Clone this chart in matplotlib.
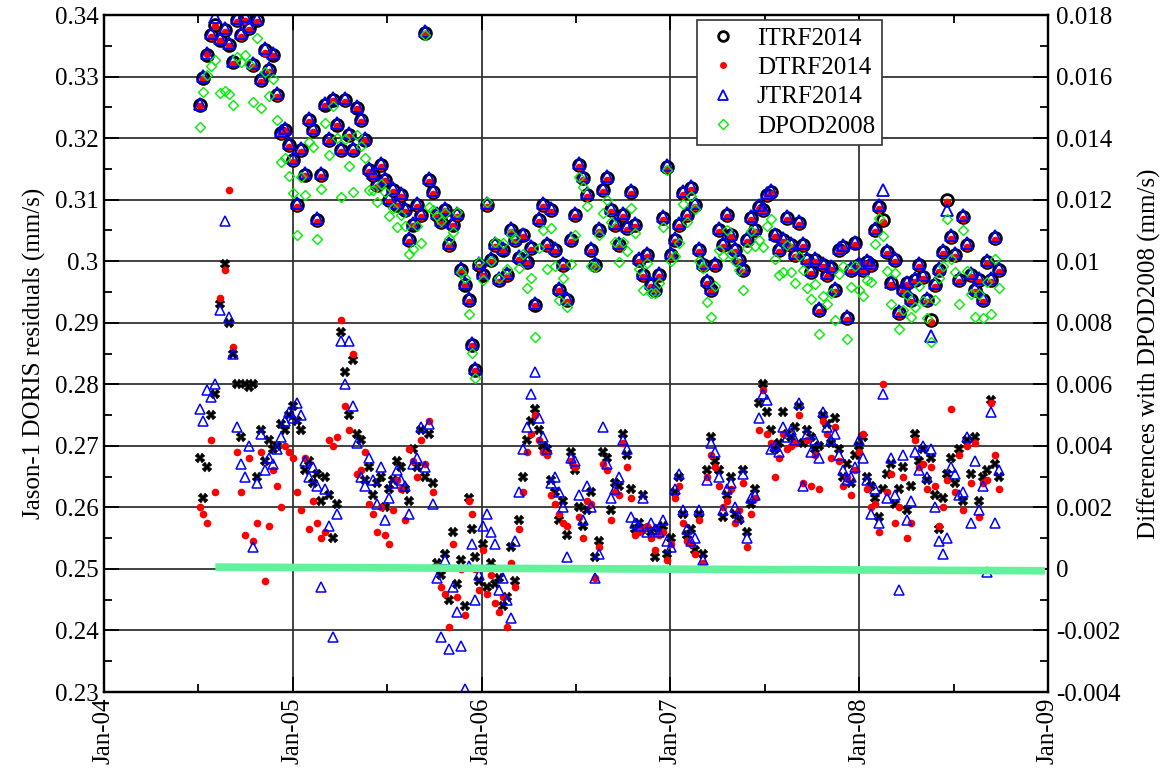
import matplotlib
matplotlib.use("Agg")
import matplotlib.pyplot as plt
from matplotlib.ticker import MultipleLocator, FuncFormatter
from matplotlib.lines import Line2D

plt.rcParams['font.family'] = ['Liberation Serif', 'DejaVu Serif']
plt.rcParams['font.size'] = 18

# epoch of each solution (decimal year)
t = [2004.508, 2004.524, 2004.546, 2004.567, 2004.588, 2004.614, 2004.641, 2004.662, 2004.683, 2004.704,
     2004.726, 2004.747, 2004.768, 2004.789, 2004.810, 2004.832, 2004.853, 2004.874, 2004.895, 2004.916,
     2004.938, 2004.959, 2004.980, 2005.001, 2005.022, 2005.043, 2005.065, 2005.086, 2005.107, 2005.128,
     2005.149, 2005.171, 2005.192, 2005.213, 2005.234, 2005.255, 2005.276, 2005.298, 2005.319, 2005.340,
     2005.361, 2005.382, 2005.404, 2005.425, 2005.446, 2005.467, 2005.488, 2005.510, 2005.531, 2005.552,
     2005.573, 2005.594, 2005.615, 2005.637, 2005.658, 2005.679, 2005.700, 2005.721, 2005.743, 2005.764,
     2005.785, 2005.806, 2005.827, 2005.849, 2005.870, 2005.891, 2005.912, 2005.933, 2005.949, 2005.965,
     2005.986, 2006.007, 2006.029, 2006.050, 2006.071, 2006.092, 2006.113, 2006.135, 2006.156, 2006.177,
     2006.198, 2006.219, 2006.240, 2006.262, 2006.283, 2006.304, 2006.325, 2006.346, 2006.368, 2006.389,
     2006.410, 2006.431, 2006.452, 2006.474, 2006.495, 2006.516, 2006.537, 2006.558, 2006.579, 2006.601,
     2006.622, 2006.643, 2006.664, 2006.685, 2006.707, 2006.728, 2006.749, 2006.770, 2006.791, 2006.812,
     2006.834, 2006.855, 2006.876, 2006.897, 2006.918, 2006.940, 2006.961, 2006.982, 2007.003, 2007.024,
     2007.045, 2007.067, 2007.088, 2007.109, 2007.130, 2007.151, 2007.173, 2007.194, 2007.215, 2007.236,
     2007.257, 2007.279, 2007.300, 2007.321, 2007.342, 2007.363, 2007.384, 2007.406, 2007.427, 2007.448,
     2007.469, 2007.490, 2007.512, 2007.533, 2007.554, 2007.575, 2007.596, 2007.617, 2007.639, 2007.660,
     2007.681, 2007.702, 2007.723, 2007.745, 2007.766, 2007.787, 2007.808, 2007.829, 2007.851, 2007.872,
     2007.893, 2007.914, 2007.935, 2007.957, 2007.978, 2007.999, 2008.020, 2008.041, 2008.062, 2008.084,
     2008.105, 2008.126, 2008.147, 2008.168, 2008.190, 2008.211, 2008.232, 2008.253, 2008.274, 2008.296,
     2008.317, 2008.338, 2008.359, 2008.380, 2008.401, 2008.423, 2008.444, 2008.465, 2008.486, 2008.507,
     2008.529, 2008.550, 2008.571, 2008.592, 2008.613, 2008.634, 2008.656, 2008.677, 2008.698, 2008.719,
     2008.740]

# residuals (mm/s), left axis
itrf2014 = [0.3254, 0.3298, 0.3335, 0.3367, 0.3384, 0.3359, 0.3376, 0.3351, 0.3324, 0.3392,
            0.3367, 0.3395, 0.3379, 0.3319, 0.3392, 0.3294, 0.3343, 0.3311, 0.3335, 0.3270,
            0.3208, 0.3213, 0.3189, 0.3164, 0.3091, 0.3181, 0.3140, 0.3229, 0.3213, 0.3067,
            0.3140, 0.3254, 0.3197, 0.3262, 0.3221, 0.3181, 0.3262, 0.3205, 0.3181, 0.3249,
            0.3229, 0.3197, 0.3148, 0.3140, 0.3124, 0.3156, 0.3132, 0.3099, 0.3116, 0.3091,
            0.3108, 0.3083, 0.3034, 0.3059, 0.3091, 0.3075, 0.3371, 0.3132, 0.3112, 0.3075,
            0.3064, 0.3083, 0.3026, 0.3059, 0.3075, 0.2986, 0.2961, 0.2937, 0.2864, 0.2823,
            0.2994, 0.2978, 0.3091, 0.3002, 0.3026, 0.2969, 0.3018, 0.2978, 0.3051, 0.3034,
            0.3005, 0.3042, 0.2999, 0.3021, 0.2929, 0.3067, 0.3091, 0.3026, 0.3083, 0.3018,
            0.2953, 0.2994, 0.2937, 0.3034, 0.3075, 0.3156, 0.3135, 0.3108, 0.3018, 0.2994,
            0.3051, 0.3116, 0.3135, 0.3083, 0.3059, 0.3026, 0.3075, 0.3054, 0.3112, 0.3059,
            0.3002, 0.2978, 0.3010, 0.2961, 0.2953, 0.2978, 0.3070, 0.3153, 0.3010, 0.3034,
            0.3059, 0.3111, 0.3075, 0.3119, 0.3091, 0.3018, 0.2994, 0.2966, 0.2953, 0.2994,
            0.3051, 0.3026, 0.3075, 0.3042, 0.3018, 0.3002, 0.2986, 0.3034, 0.3070, 0.3051,
            0.3088, 0.3083, 0.3108, 0.3113, 0.3042, 0.3018, 0.3034, 0.3070, 0.3026, 0.3010,
            0.3062, 0.3026, 0.3002, 0.2982, 0.3002, 0.2921, 0.2994, 0.2978, 0.2989, 0.2953,
            0.3018, 0.3023, 0.2908, 0.2986, 0.3029, 0.2994, 0.2986, 0.2999, 0.2994, 0.3051,
            0.3088, 0.3067, 0.3015, 0.2964, 0.3002, 0.2916, 0.2953, 0.2964, 0.2937, 0.2969,
            0.2994, 0.2974, 0.2937, 0.2904, 0.2961, 0.2986, 0.3015, 0.3099, 0.3039, 0.3010,
            0.2969, 0.3072, 0.3026, 0.2978, 0.2953, 0.2969, 0.2937, 0.2999, 0.2969, 0.3038,
            0.2986]

dtrf2014 = [0.3252, 0.3296, 0.3336, 0.3364, 0.3382, 0.3357, 0.3373, 0.3349, 0.3321, 0.3389,
            0.3364, 0.3391, 0.3376, 0.3316, 0.3388, 0.3291, 0.3339, 0.3308, 0.3333, 0.3267,
            0.3205, 0.3211, 0.3186, 0.3161, 0.3088, 0.3177, 0.3138, 0.3226, 0.3210, 0.3064,
            0.3137, 0.3252, 0.3194, 0.3260, 0.3219, 0.3178, 0.3259, 0.3202, 0.3178, 0.3247,
            0.3226, 0.3195, 0.3145, 0.3137, 0.3121, 0.3153, 0.3130, 0.3096, 0.3113, 0.3089,
            0.3105, 0.3080, 0.3031, 0.3057, 0.3088, 0.3072, 0.3369, 0.3129, 0.3110, 0.3072,
            0.3061, 0.3081, 0.3023, 0.3057, 0.3072, 0.2983, 0.2959, 0.2934, 0.2862, 0.2821,
            0.2991, 0.2976, 0.3088, 0.2999, 0.3023, 0.2966, 0.3016, 0.2975, 0.3048, 0.3031,
            0.3002, 0.3039, 0.2996, 0.3018, 0.2927, 0.3064, 0.3088, 0.3023, 0.3080, 0.3015,
            0.2951, 0.2991, 0.2934, 0.3031, 0.3072, 0.3153, 0.3132, 0.3105, 0.3015, 0.2991,
            0.3048, 0.3113, 0.3132, 0.3080, 0.3056, 0.3023, 0.3072, 0.3051, 0.3109, 0.3056,
            0.2999, 0.2975, 0.3007, 0.2958, 0.2950, 0.2975, 0.3067, 0.3150, 0.3007, 0.3031,
            0.3056, 0.3108, 0.3072, 0.3116, 0.3088, 0.3015, 0.2991, 0.2963, 0.2950, 0.2991,
            0.3048, 0.3023, 0.3072, 0.3039, 0.3015, 0.2999, 0.2983, 0.3031, 0.3067, 0.3048,
            0.3085, 0.3080, 0.3105, 0.3110, 0.3039, 0.3015, 0.3031, 0.3067, 0.3023, 0.3007,
            0.3059, 0.3023, 0.2999, 0.2979, 0.2999, 0.2918, 0.2991, 0.2975, 0.2986, 0.2950,
            0.3015, 0.3020, 0.2905, 0.2983, 0.3026, 0.2991, 0.2983, 0.2996, 0.2991, 0.3048,
            0.3085, 0.3064, 0.3012, 0.2961, 0.2999, 0.2913, 0.2950, 0.2961, 0.2934, 0.2966,
            0.2991, 0.2971, 0.2934, 0.2901, 0.2958, 0.2983, 0.3012, 0.3096, 0.3036, 0.3007,
            0.2966, 0.3069, 0.3023, 0.2975, 0.2950, 0.2966, 0.2934, 0.2996, 0.2966, 0.3035,
            0.2983]

jtrf2014 = [0.3256, 0.3301, 0.3339, 0.3370, 0.3397, 0.3362, 0.3379, 0.3354, 0.3326, 0.3395,
            0.3370, 0.3398, 0.3382, 0.3322, 0.3394, 0.3297, 0.3346, 0.3314, 0.3338, 0.3273,
            0.3211, 0.3216, 0.3192, 0.3167, 0.3094, 0.3184, 0.3143, 0.3232, 0.3216, 0.3070,
            0.3143, 0.3257, 0.3200, 0.3265, 0.3224, 0.3184, 0.3265, 0.3208, 0.3184, 0.3252,
            0.3232, 0.3200, 0.3151, 0.3143, 0.3127, 0.3159, 0.3135, 0.3102, 0.3119, 0.3094,
            0.3111, 0.3086, 0.3037, 0.3062, 0.3094, 0.3078, 0.3374, 0.3135, 0.3115, 0.3078,
            0.3067, 0.3086, 0.3029, 0.3062, 0.3078, 0.2989, 0.2964, 0.2940, 0.2867, 0.2826,
            0.2997, 0.2981, 0.3094, 0.3005, 0.3029, 0.2972, 0.3021, 0.2981, 0.3054, 0.3037,
            0.3008, 0.3045, 0.3002, 0.3024, 0.2932, 0.3070, 0.3094, 0.3029, 0.3086, 0.3021,
            0.2956, 0.2997, 0.2940, 0.3037, 0.3078, 0.3159, 0.3138, 0.3111, 0.3021, 0.2997,
            0.3054, 0.3119, 0.3138, 0.3086, 0.3062, 0.3029, 0.3078, 0.3057, 0.3115, 0.3062,
            0.3005, 0.2981, 0.3013, 0.2964, 0.2956, 0.2981, 0.3073, 0.3156, 0.3013, 0.3037,
            0.3062, 0.3114, 0.3078, 0.3122, 0.3094, 0.3021, 0.2997, 0.2969, 0.2956, 0.2997,
            0.3054, 0.3029, 0.3078, 0.3045, 0.3021, 0.3005, 0.2989, 0.3037, 0.3073, 0.3054,
            0.3091, 0.3086, 0.3111, 0.3116, 0.3045, 0.3021, 0.3037, 0.3073, 0.3029, 0.3013,
            0.3065, 0.3029, 0.3005, 0.2985, 0.3005, 0.2924, 0.2997, 0.2981, 0.2992, 0.2956,
            0.3021, 0.3026, 0.2911, 0.2989, 0.3032, 0.2997, 0.2989, 0.3002, 0.2997, 0.3054,
            0.3091, 0.3116, 0.3018, 0.2967, 0.3005, 0.2919, 0.2956, 0.2967, 0.2940, 0.2972,
            0.2997, 0.2977, 0.2940, 0.2878, 0.2964, 0.2989, 0.3018, 0.3084, 0.3042, 0.3013,
            0.2972, 0.3075, 0.3029, 0.2981, 0.2956, 0.2972, 0.2940, 0.3002, 0.2972, 0.3041,
            0.2989]

dpod2008 = [0.3218, 0.3275, 0.3302, 0.3317, 0.3327, 0.3273, 0.3277, 0.3271, 0.3254, 0.3332,
            0.3324, 0.3335, 0.3320, 0.3259, 0.3362, 0.3249, 0.3308, 0.3269, 0.3296, 0.3230,
            0.3161, 0.3168, 0.3139, 0.3111, 0.3043, 0.3136, 0.3108, 0.3194, 0.3185, 0.3036,
            0.3118, 0.3224, 0.3173, 0.3252, 0.3200, 0.3104, 0.3198, 0.3155, 0.3113, 0.3205,
            0.3187, 0.3168, 0.3115, 0.3116, 0.3096, 0.3126, 0.3112, 0.3073, 0.3087, 0.3056,
            0.3075, 0.3057, 0.3012, 0.3020, 0.3058, 0.3030, 0.3368, 0.3088, 0.3084, 0.3073,
            0.3066, 0.3078, 0.3036, 0.3047, 0.3080, 0.2983, 0.2973, 0.2914, 0.2851, 0.2810,
            0.2998, 0.2970, 0.3097, 0.3000, 0.3031, 0.2972, 0.3030, 0.2987, 0.3044, 0.3038,
            0.2989, 0.3012, 0.2957, 0.2973, 0.2877, 0.3022, 0.3051, 0.2987, 0.3054, 0.2993,
            0.2937, 0.2972, 0.2926, 0.2996, 0.3043, 0.3136, 0.3121, 0.3089, 0.2993, 0.2990,
            0.3042, 0.3078, 0.3099, 0.3064, 0.3031, 0.2999, 0.3031, 0.3017, 0.3086, 0.3046,
            0.2987, 0.2954, 0.2997, 0.2949, 0.2949, 0.2965, 0.3056, 0.3148, 0.3000, 0.3009,
            0.3029, 0.3093, 0.3064, 0.3106, 0.3085, 0.3000, 0.2989, 0.2934, 0.2910, 0.2959,
            0.3019, 0.3009, 0.3051, 0.3012, 0.3000, 0.2986, 0.2954, 0.3022, 0.3049, 0.3025,
            0.3034, 0.3023, 0.3057, 0.3068, 0.3003, 0.2977, 0.2983, 0.3026, 0.2983, 0.2964,
            0.3009, 0.2985, 0.2957, 0.2939, 0.2963, 0.2881, 0.2944, 0.2931, 0.2948, 0.2904,
            0.2979, 0.2993, 0.2874, 0.2958, 0.2992, 0.2954, 0.2943, 0.2969, 0.2967, 0.3028,
            0.3071, 0.3041, 0.2984, 0.2930, 0.2981, 0.2890, 0.2920, 0.2945, 0.2910, 0.2925,
            0.2959, 0.2935, 0.2908, 0.2868, 0.2937, 0.2973, 0.2992, 0.3068, 0.3003, 0.2982,
            0.2930, 0.3050, 0.2984, 0.2947, 0.2910, 0.2947, 0.2907, 0.2967, 0.2914, 0.3004,
            0.2956]

# differences with DPOD2008 (mm/s), right axis
diff_itrf = [0.0036, 0.0023, 0.0033, 0.0050, 0.0057, 0.0086, 0.0099, 0.0080, 0.0070, 0.0060,
             0.0043, 0.0060, 0.0059, 0.0060, 0.0030, 0.0045, 0.0035, 0.0042, 0.0039, 0.0040,
             0.0047, 0.0045, 0.0050, 0.0053, 0.0048, 0.0045, 0.0032, 0.0035, 0.0028, 0.0031,
             0.0022, 0.0030, 0.0024, 0.0010, 0.0021, 0.0077, 0.0064, 0.0050, 0.0068, 0.0044,
             0.0042, 0.0029, 0.0033, 0.0024, 0.0028, 0.0030, 0.0020, 0.0026, 0.0029, 0.0035,
             0.0033, 0.0026, 0.0022, 0.0039, 0.0033, 0.0045, 0.0030, 0.0044, 0.0028, 0.0002,
             -0.0002, 0.0005, -0.0010, 0.0012, -0.0005, 0.0003, -0.0012, 0.0023, 0.0013, 0.0004,
             -0.0004, 0.0008, -0.0006, 0.0002, -0.0005, -0.0003, -0.0012, -0.0009, 0.0007, -0.0004,
             0.0016, 0.0030, 0.0042, 0.0048, 0.0052, 0.0045, 0.0040, 0.0039, 0.0029, 0.0025,
             0.0016, 0.0022, 0.0011, 0.0038, 0.0032, 0.0020, 0.0014, 0.0019, 0.0025, 0.0004,
             0.0009, 0.0038, 0.0036, 0.0019, 0.0028, 0.0027, 0.0044, 0.0037, 0.0026, 0.0013,
             0.0015, 0.0024, 0.0013, 0.0012, 0.0004, 0.0013, 0.0014, 0.0005, 0.0010, 0.0025,
             0.0030, 0.0018, 0.0011, 0.0013, 0.0006, 0.0018, 0.0005, 0.0032, 0.0043, 0.0035,
             0.0032, 0.0017, 0.0024, 0.0030, 0.0018, 0.0016, 0.0032, 0.0012, 0.0021, 0.0026,
             0.0054, 0.0060, 0.0051, 0.0045, 0.0039, 0.0041, 0.0051, 0.0044, 0.0043, 0.0046,
             0.0053, 0.0041, 0.0045, 0.0043, 0.0039, 0.0040, 0.0050, 0.0047, 0.0041, 0.0049,
             0.0039, 0.0030, 0.0034, 0.0028, 0.0037, 0.0040, 0.0043, 0.0030, 0.0027, 0.0023,
             0.0017, 0.0026, 0.0031, 0.0034, 0.0021, 0.0026, 0.0033, 0.0019, 0.0027, 0.0044,
             0.0035, 0.0039, 0.0029, 0.0036, 0.0024, 0.0013, 0.0023, 0.0031, 0.0036, 0.0028,
             0.0039, 0.0022, 0.0042, 0.0031, 0.0043, 0.0022, 0.0030, 0.0032, 0.0055, 0.0034,
             0.0030]

diff_dtrf = [0.0020, 0.0018, 0.0015, 0.0042, 0.0025, 0.0088, 0.0097, 0.0123, 0.0072, 0.0038,
             0.0025, 0.0011, 0.0036, 0.0009, 0.0015, 0.0038, -0.0004, 0.0014, 0.0032, 0.0027,
             0.0020, 0.0040, 0.0038, 0.0036, 0.0025, 0.0019, 0.0036, 0.0013, 0.0022, 0.0015,
             0.0010, 0.0012, 0.0042, 0.0040, 0.0043, 0.0081, 0.0053, 0.0045, 0.0070, 0.0031,
             0.0032, 0.0038, 0.0021, 0.0018, 0.0012, 0.0020, 0.0011, 0.0008, 0.0019, 0.0029,
             0.0026, 0.0016, 0.0039, 0.0035, 0.0030, 0.0042, 0.0034, 0.0048, 0.0025, 0.0001,
             -0.0006, -0.0008, -0.0019, 0.0008, -0.0009, 0.0000, -0.0015, 0.0022, 0.0018, 0.0000,
             -0.0007, 0.0006, -0.0008, -0.0002, -0.0011, -0.0014, -0.0009, -0.0019, 0.0002, -0.0006,
             0.0013, 0.0025, 0.0038, 0.0044, 0.0050, 0.0042, 0.0038, 0.0037, 0.0024, 0.0021,
             0.0018, 0.0015, 0.0014, 0.0035, 0.0033, 0.0017, 0.0010, 0.0022, 0.0021, -0.0003,
             0.0007, 0.0034, 0.0032, 0.0016, 0.0025, 0.0024, 0.0041, 0.0033, 0.0023, 0.0011,
             0.0012, 0.0013, 0.0014, 0.0010, 0.0006, 0.0011, 0.0012, 0.0003, 0.0008, 0.0023,
             0.0027, 0.0015, 0.0009, 0.0008, 0.0005, 0.0016, 0.0002, 0.0030, 0.0037, 0.0033,
             0.0027, 0.0020, 0.0022, 0.0026, 0.0015, 0.0019, 0.0028, 0.0007, 0.0018, 0.0023,
             0.0045, 0.0058, 0.0044, 0.0041, 0.0030, 0.0036, 0.0044, 0.0039, 0.0040, 0.0041,
             0.0050, 0.0028, 0.0042, 0.0027, 0.0037, 0.0026, 0.0048, 0.0044, 0.0036, 0.0046,
             0.0035, 0.0027, 0.0030, 0.0024, 0.0032, 0.0038, 0.0044, 0.0026, 0.0020, 0.0021,
             0.0012, 0.0060, 0.0025, 0.0031, 0.0015, 0.0020, 0.0030, 0.0010, 0.0015, 0.0042,
             0.0033, 0.0034, 0.0026, 0.0033, 0.0027, 0.0014, 0.0020, 0.0029, 0.0052, 0.0025,
             0.0037, 0.0019, 0.0040, 0.0028, 0.0041, 0.0017, 0.0028, 0.0029, 0.0054, 0.0037,
             0.0026]

diff_jtrf = [0.0052, 0.0048, 0.0058, 0.0056, 0.0060, 0.0084, 0.0113, 0.0082, 0.0070, 0.0046,
             0.0034, 0.0030, 0.0040, 0.0007, 0.0028, 0.0044, 0.0032, 0.0036, 0.0034, 0.0039,
             0.0043, 0.0048, 0.0051, 0.0049, 0.0054, 0.0050, 0.0035, 0.0030, 0.0033, 0.0027,
             -0.0006, 0.0026, 0.0014, -0.0022, 0.0018, 0.0074, 0.0060, 0.0074, 0.0053, 0.0041,
             0.0030, 0.0027, 0.0036, 0.0029, 0.0021, 0.0033, 0.0016, 0.0023, 0.0028, 0.0032,
             0.0029, 0.0027, 0.0018, 0.0034, 0.0036, 0.0046, 0.0033, 0.0047, 0.0021, -0.0003,
             -0.0022, 0.0003, -0.0026, -0.0006, -0.0014, -0.0025, -0.0039, 0.0001, 0.0008, -0.0010,
             -0.0002, 0.0014, 0.0018, 0.0012, 0.0008, -0.0007, -0.0003, -0.0010, -0.0016, 0.0009,
             0.0025, 0.0039, 0.0046, 0.0057, 0.0064, 0.0049, 0.0043, 0.0039, 0.0028, 0.0030,
             0.0025, 0.0020, 0.0004, 0.0036, 0.0035, 0.0024, 0.0016, 0.0027, 0.0020, -0.0003,
             0.0005, 0.0046, 0.0034, 0.0023, 0.0026, 0.0030, 0.0042, 0.0039, 0.0017, 0.0015,
             0.0014, 0.0023, 0.0012, 0.0015, 0.0013, 0.0012, 0.0016, 0.0009, 0.0007, 0.0026,
             0.0031, 0.0019, 0.0013, 0.0009, 0.0010, 0.0019, 0.0003, 0.0029, 0.0041, 0.0038,
             0.0030, 0.0019, 0.0026, 0.0028, 0.0020, 0.0017, 0.0031, 0.0010, 0.0023, 0.0024,
             0.0049, 0.0057, 0.0055, 0.0039, 0.0040, 0.0038, 0.0046, 0.0043, 0.0045, 0.0042,
             0.0054, 0.0027, 0.0044, 0.0038, 0.0042, 0.0036, 0.0051, 0.0046, 0.0042, 0.0044,
             0.0037, 0.0032, 0.0029, 0.0030, 0.0033, 0.0042, 0.0036, 0.0029, 0.0018, 0.0026,
             0.0015, 0.0057, 0.0023, 0.0036, 0.0024, -0.0007, 0.0037, 0.0016, 0.0022, 0.0038,
             0.0032, 0.0040, 0.0030, 0.0039, 0.0020, 0.0009, 0.0005, 0.0010, 0.0033, 0.0031,
             0.0024, 0.0025, 0.0043, 0.0015, 0.0035, 0.0019, 0.0027, -0.0001, 0.0051, 0.0015,
             0.0032]

# DPOD2008 reference (zero line)
ref_t = [2004.59, 2008.984]
ref_v = [0.00006, -0.00006]

year_ticks = [2004, 2005, 2006, 2007, 2008, 2009]
year_labels = ['Jan-04', 'Jan-05', 'Jan-06', 'Jan-07', 'Jan-08', 'Jan-09']

fig = plt.figure(figsize=(11.63, 7.74), dpi=100)
ax = fig.add_axes([0.0894, 0.1059, 0.8117, 0.8747])
ax2 = ax.twinx()

ax.plot(t, itrf2014, ls='none', marker='o', ms=8.5, mfc='none', mec='black', mew=2.0)
ax.plot(t, dtrf2014, ls='none', marker='o', ms=5.5, mfc='red', mec='red', mew=0)
ax.plot(t, jtrf2014, ls='none', marker='^', ms=8, mfc='none', mec='blue', mew=1.3)
ax.plot(t, dpod2008, ls='none', marker='D', ms=5, mfc='none', mec='#00ee00', mew=1.0)

ax2.plot(t, diff_itrf, ls='none', marker='X', ms=6.5, mfc='black', mec='black', mew=0.3)
ax2.plot(t, diff_dtrf, ls='none', marker='o', ms=5.5, mfc='red', mec='red', mew=0)
ax2.plot(t, diff_jtrf, ls='none', marker='^', ms=7, mfc='none', mec='blue', mew=1.1)
ax2.plot(ref_t, ref_v, color='#62f29c', lw=5.5, solid_capstyle='butt', zorder=5)

ax.set_xlim(2004, 2009)
ax.set_ylim(0.23, 0.34)
ax2.set_ylim(-0.004, 0.018)

fmt = FuncFormatter(lambda v, p: '%g' % (round(v, 4) if abs(v) > 1e-9 else 0))
ax.set_xticks(year_ticks)
ax.set_xticklabels(year_labels, rotation=90)
ax.xaxis.set_minor_locator(MultipleLocator(0.5))
ax.yaxis.set_major_locator(MultipleLocator(0.01))
ax.yaxis.set_minor_locator(MultipleLocator(0.005))
ax.yaxis.set_major_formatter(fmt)
ax2.yaxis.set_major_locator(MultipleLocator(0.002))
ax2.yaxis.set_minor_locator(MultipleLocator(0.001))
ax2.yaxis.set_major_formatter(fmt)

ax.tick_params(which='both', direction='in', top=True, right=False, width=1.3, labelsize=18)
ax.tick_params(which='major', length=11, pad=4)
ax.tick_params(which='minor', length=6)
ax2.tick_params(which='both', direction='in', width=1.3, labelsize=18)
ax2.tick_params(which='major', length=11, pad=6)
ax2.tick_params(which='minor', length=6)

ax.grid(True, which='major', color='0.2', lw=1.3)
ax.set_axisbelow(True)
for a in (ax, ax2):
    for s in a.spines.values():
        s.set_linewidth(1.6)

ax.set_ylabel('Jason-1 DORIS residuals (mm/s)', fontsize=18, labelpad=6)
ax2.set_ylabel('Differences with DPOD2008 (mm/s)', fontsize=18, labelpad=12)

handles = [
    Line2D([], [], ls='none', marker='o', ms=7, mfc='none', mec='black', mew=2.0),
    Line2D([], [], ls='none', marker='o', ms=5, mfc='red', mec='red', mew=0),
    Line2D([], [], ls='none', marker='^', ms=7, mfc='none', mec='blue', mew=1.3),
    Line2D([], [], ls='none', marker='D', ms=5, mfc='none', mec='#00ee00', mew=1.0),
]
leg = ax2.legend(handles, ['ITRF2014', 'DTRF2014', 'JTRF2014', 'DPOD2008'],
                 loc='upper left', bbox_to_anchor=(0.628, 0.993), fontsize=18,
                 frameon=True, fancybox=False, framealpha=1, edgecolor='0.2',
                 borderpad=0.3, labelspacing=0.27, handletextpad=0.6, handlelength=1.5,
                 borderaxespad=0)
leg.get_frame().set_linewidth(1.2)

fig.savefig('out.png', dpi=100)
